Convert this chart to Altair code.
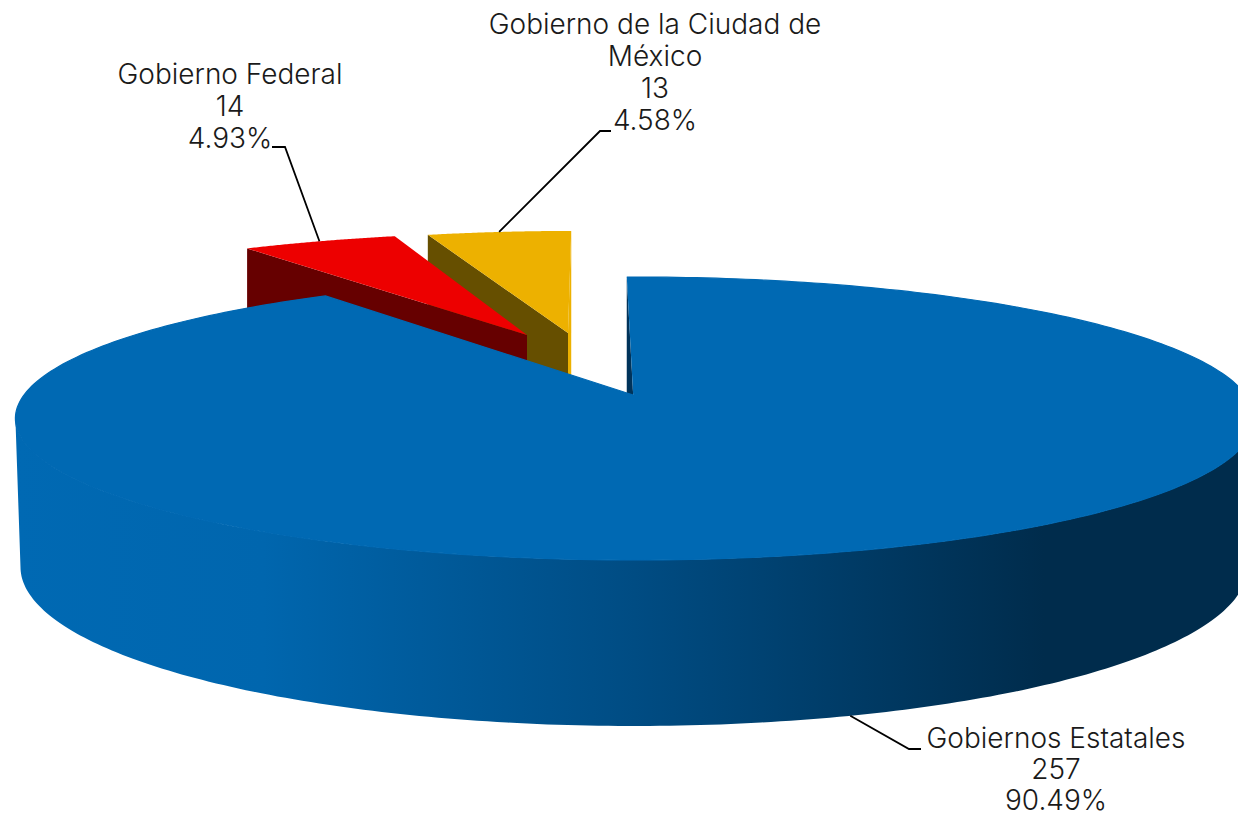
import numpy as np
import pandas as pd
import altair as alt

# ---- values
categories = ["Gobiernos Estatales", "Gobierno Federal", "Gobierno de la Ciudad de México"]
values = [257, 14, 13]
percents = ["90.49%", "4.93%", "4.58%"]
label_lines = [["Gobiernos Estatales"], ["Gobierno Federal"], ["Gobierno de la Ciudad de", "México"]]

# ---- colours
TOP_BLUE = "#0069b3"
RED, RED_DARK = "#ed0000", "#660000"
GOLD, GOLD_DARK = "#edb100", "#664f00"
BLUE_FACE = "#00335a"

# ---- pie camera: a tilted disc seen in perspective
CX, CY = 635.0, 395.0
A, B, P = 611.0, 137.6, 0.166
DROP = 145.0
ROT = -0.9
ROT_GOLD = -0.65
ROT_RED = -0.3
LEADER_TURN = 0.5
CX2, CY2, A2, B2 = 634.0, 540.6, 605.0, 154.6


def project(X, Y, ax=A):
    d = 1 + P * Y
    return CX + ax * X / d, CY - B * Y / d


def project_low(X, Y):
    d = 1 + P * Y
    return CX2 + A2 * X / d, CY2 - B2 * Y / d


total = sum(values)
span = [v / total * 360 for v in values]
# clockwise from the top: blue, then gold and red end the turn
blue_a = (ROT, ROT + span[0])
gold_a = (ROT_GOLD - span[2], ROT_GOLD)
red_a = (ROT_RED - span[2] - span[1], ROT_RED - span[2])


def arc(a0, a1, ox=0.0, oy=0.0, ax=A, n=80):
    t = np.radians(np.linspace(a0, a1, n))
    return project(ox + np.sin(t), oy + np.cos(t), ax)


def unproject_apex(px, py, ax):
    Y = (CY - py) / (B - P * (CY - py))
    X = (px - CX) * (1 + P * Y) / ax
    return X, Y


AX_UP = 626.0
red_o = unproject_apex(527, 335, AX_UP)
gold_o = unproject_apex(568, 333, AX_UP)


def wedge(a0, a1, o):
    xs, ys = arc(a0, a1, o[0], o[1], AX_UP)
    ax, ay = project(o[0], o[1], AX_UP)
    return np.append(xs, ax), np.append(ys, ay)


def extrude(x0, y0, x1, y1):
    return [x0, x1, x1, x0], [y0, y1, y1 + DROP, y0 + DROP]


xs_scale = alt.Scale(domain=[8, 1238], nice=False, zero=False)
ys_scale = alt.Scale(domain=[816, 8], nice=False, zero=False)
X_ENC = alt.X("x:Q", scale=xs_scale, axis=None)
Y_ENC = alt.Y("y:Q", scale=ys_scale, axis=None)


def poly(xs, ys, fill, edge=None):
    df = pd.DataFrame({"x": np.asarray(xs, float), "y": np.asarray(ys, float), "i": range(len(xs))})
    if edge:
        mark = alt.Chart(df).mark_line(fill=fill, stroke=edge, strokeWidth=1.2, clip=True)
    else:
        mark = alt.Chart(df).mark_line(fill=fill, strokeWidth=0, clip=True)
    return mark.encode(x=X_ENC, y=Y_ENC, order="i:Q")


def polyline(xs, ys):
    df = pd.DataFrame({"x": xs, "y": ys, "i": range(len(xs))})
    return alt.Chart(df).mark_line(color="black", strokeWidth=1.8, clip=True).encode(
        x=X_ENC, y=Y_ENC, order="i:Q"
    )


side_fill = alt.Gradient(
    gradient="linear", x1=0, y1=0, x2=1, y2=0,
    stops=[
        alt.GradientStop(offset=0.0, color="#0069b3"),
        alt.GradientStop(offset=0.2, color="#0066ae"),
        alt.GradientStop(offset=0.5, color="#004c83"),
        alt.GradientStop(offset=0.83, color="#002c4c"),
        alt.GradientStop(offset=1.0, color="#002c4c"),
    ],
)

layers = []

# gold slice
gx, gy = wedge(*gold_a, gold_o)
g_end = (gx[-2], gy[-2])
g_start = (gx[0], gy[0])
g_apex = (gx[-1], gy[-1])
layers.append(poly(*extrude(g_end[0], g_end[1], g_apex[0], g_apex[1]), GOLD))
layers.append(poly(*extrude(g_start[0], g_start[1], g_apex[0], g_apex[1]), GOLD_DARK))
layers.append(poly(gx, gy, GOLD))

# red slice
rx, ry = wedge(*red_a, red_o)
r_start = (rx[0], ry[0])
r_apex = (rx[-1], ry[-1])
layers.append(poly(*extrude(r_start[0], r_start[1], r_apex[0], r_apex[1]), RED_DARK))
layers.append(poly(rx, ry, RED))

# blue slice: outer wall
T_EXT = np.degrees(np.arccos(-P))
wall = np.radians(np.linspace(T_EXT, 360 - T_EXT, 200))
ux, uy = project(np.sin(wall), np.cos(wall))
lx, ly = project_low(np.sin(wall), np.cos(wall))
layers.append(poly(np.r_[ux, lx[::-1]], np.r_[uy, ly[::-1]], side_fill))

# blue slice: cut face and top
bx, by = arc(*blue_a, n=300)
apex = project(-0.003, 0.0)
layers.append(poly(*extrude(bx[0], by[0], apex[0], apex[1]), BLUE_FACE))
layers.append(poly(np.append(bx, apex[0]), np.append(by, apex[1]), TOP_BLUE, edge=TOP_BLUE))

# ---- leader lines, from each slice's arc midpoint to its label
mid_red = project(red_o[0] + np.sin(np.radians(sum(red_a) / 2)),
                  red_o[1] + np.cos(np.radians(sum(red_a) / 2)), AX_UP)
mid_gold = project(gold_o[0] + np.sin(np.radians(sum(gold_a) / 2)),
                   gold_o[1] + np.cos(np.radians(sum(gold_a) / 2)), AX_UP)
blue_mid = np.radians(sum(blue_a) / 2 + LEADER_TURN)
mid_blue = project_low(np.sin(blue_mid), np.cos(blue_mid))
layers.append(polyline([272, 285, mid_red[0]], [147, 147, mid_red[1]]))
layers.append(polyline([611, 600, mid_gold[0]], [131, 131, mid_gold[1]]))
layers.append(polyline([921, 909, mid_blue[0]], [749, 749, mid_blue[1]]))

# ---- labels
label_pos = [(1056, 740, 31), (230, 76, 32), (655, 26, 32)]
rows = []
for lines, v, p, (lx0, ly0, step) in zip(label_lines, values, percents, label_pos):
    for k, t in enumerate(lines + [str(v), p]):
        rows.append({"x": lx0, "y": ly0 + k * step, "t": t})
labels = alt.Chart(pd.DataFrame(rows)).mark_text(
    font="Inter", fontSize=28, fontWeight=300, color="#1a1a1a", align="center", baseline="middle"
).encode(x=X_ENC, y=Y_ENC, text="t:N")
layers.append(labels)

chart = alt.layer(*layers).properties(
    width=1230, height=808, padding=0, autosize=alt.AutoSizeParams(type="none")
).configure_view(stroke=None)

chart.save("out.html", embed_options={"renderer": "svg", "actions": False})
